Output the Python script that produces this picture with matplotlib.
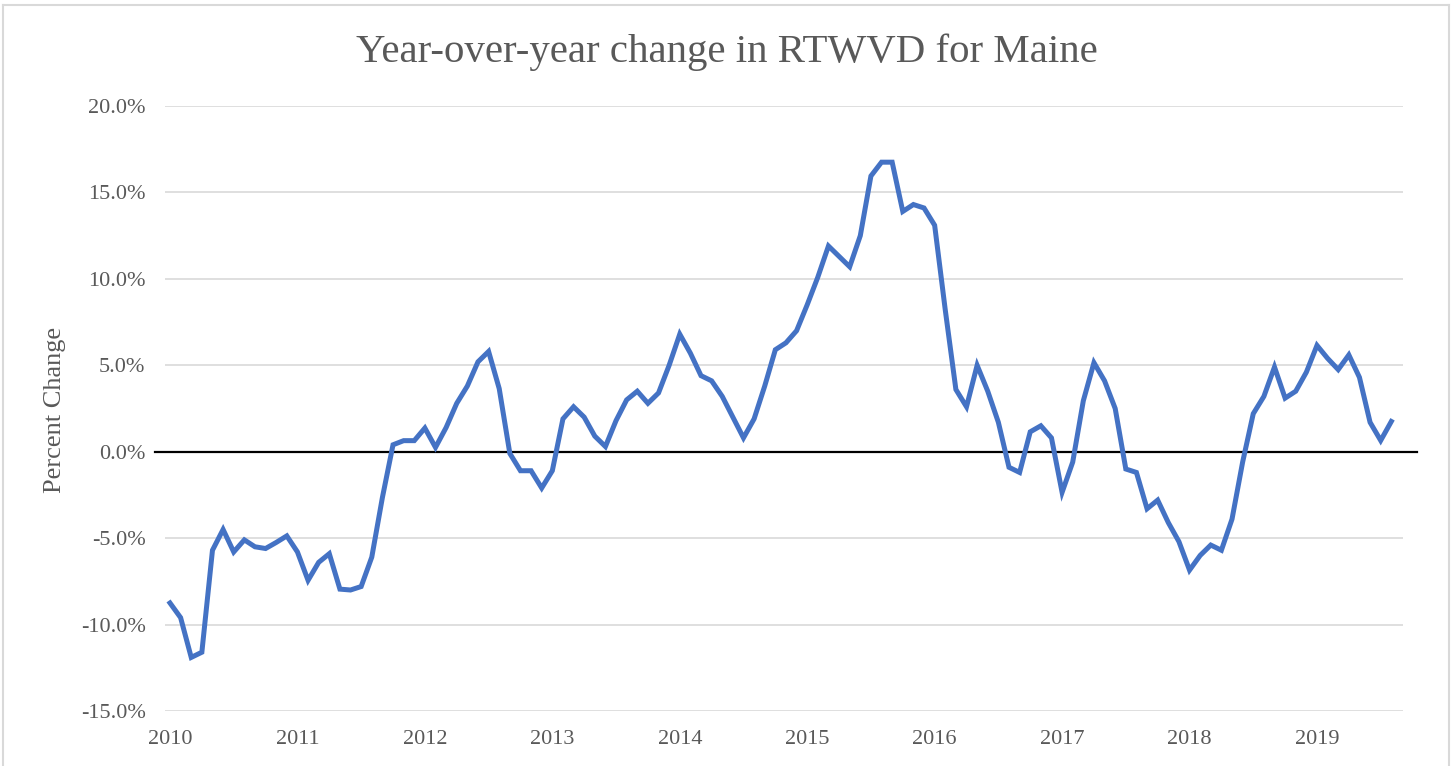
import matplotlib
matplotlib.use("Agg")
import matplotlib.pyplot as plt
from matplotlib.lines import Line2D

plt.rcParams['font.family'] = ['Liberation Serif', 'DejaVu Serif']

# Monthly year-over-year change (%), Jan 2010 - Aug 2019
values = [
    # 2010
    -8.75, -9.6, -11.9, -11.6, -5.7, -4.5, -5.8, -5.1, -5.5, -5.6, -5.25, -4.87,
    # 2011
    -5.8, -7.44, -6.4, -5.9, -7.95, -8.0, -7.8, -6.1, -2.65, 0.4, 0.64, 0.64,
    # 2012
    1.37, 0.25, 1.4, 2.8, 3.8, 5.2, 5.8, 3.65, -0.1, -1.1, -1.1, -2.1,
    # 2013
    -1.1, 1.9, 2.6, 2.0, 0.9, 0.3, 1.8, 3.0, 3.5, 2.8, 3.4, 5.0,
    # 2014
    6.8, 5.7, 4.4, 4.1, 3.2, 2.0, 0.8, 1.9, 3.8, 5.9, 6.3, 7.0,
    # 2015
    8.5, 10.1, 11.9, 11.3, 10.7, 12.5, 15.95, 16.75, 16.75, 13.9, 14.3, 14.1,
    # 2016
    13.1, 8.2, 3.6, 2.6, 5.0, 3.5, 1.7, -0.9, -1.2, 1.15, 1.5, 0.8,
    # 2017
    -2.35, -0.6, 2.95, 5.15, 4.1, 2.5, -1.0, -1.2, -3.3, -2.8, -4.1, -5.2,
    # 2018
    -6.85, -6.0, -5.4, -5.7, -3.9, -0.6, 2.2, 3.2, 4.9, 3.1, 3.5, 4.6,
    # 2019
    6.15, 5.4, 4.75, 5.6, 4.3, 1.7, 0.65, 1.75,
]
years = ['2010', '2011', '2012', '2013', '2014', '2015', '2016', '2017', '2018', '2019']
y_ticks = [20, 15, 10, 5, 0, -5, -10, -15]
title = 'Year-over-year change in RTWVD for Maine'
y_label = 'Percent Change'

W, H = 1453, 766
fig = plt.figure(figsize=(W / 100, H / 100), dpi=100)
fig.patch.set_facecolor('white')

# chart border (gray frame)
border_col = '#d9d9d9'
fig.add_artist(Line2D([3 / W, 3 / W], [0, 1 - 5 / H], color=border_col, lw=1.5, transform=fig.transFigure))
fig.add_artist(Line2D([1449 / W, 1449 / W], [0, 1 - 5 / H], color=border_col, lw=1.5, transform=fig.transFigure))
fig.add_artist(Line2D([3 / W, 1449 / W], [1 - 5 / H, 1 - 5 / H], color=border_col, lw=1.5, transform=fig.transFigure))

left, right, top, bottom = 165, 1403, 106, 711
ax = fig.add_axes([left / W, 1 - bottom / H, (right - left) / W, (bottom - top) / H])

x = list(range(len(values)))
ax.set_xlim(-0.47, 116.1)
ax.set_ylim(-15, 20)

ax.set_yticks(y_ticks)
ax.set_yticklabels([f'{v:.1f}%' for v in y_ticks])
ax.set_xticks([i * 12 for i in range(len(years))])
ax.set_xticklabels(years)

ax.grid(axis='y', color='#d9d9d9', lw=1.2)
ax.set_axisbelow(True)
for s in ax.spines.values():
    s.set_visible(False)
ax.tick_params(length=0, labelsize=16, colors='#595959')
ax.tick_params(axis='y', pad=14)
ax.tick_params(axis='x', pad=14)

# zero line extending slightly beyond the plot area
ax.axhline(0, xmin=-0.008, xmax=1.011, color='black', lw=1.6, clip_on=False, zorder=2)

ax.plot(x, values, color='#4472C4', lw=3.6, solid_joinstyle='miter', zorder=3)

fig.text(0.5, 1 - 62 / H, title, ha='center', va='baseline', fontsize=29.4, color='#595959')
fig.text(55 / W, 1 - 410 / H, y_label, rotation=90, ha='center', va='center', fontsize=19, color='#595959')

fig.savefig('out.png', dpi=100, facecolor='white')
